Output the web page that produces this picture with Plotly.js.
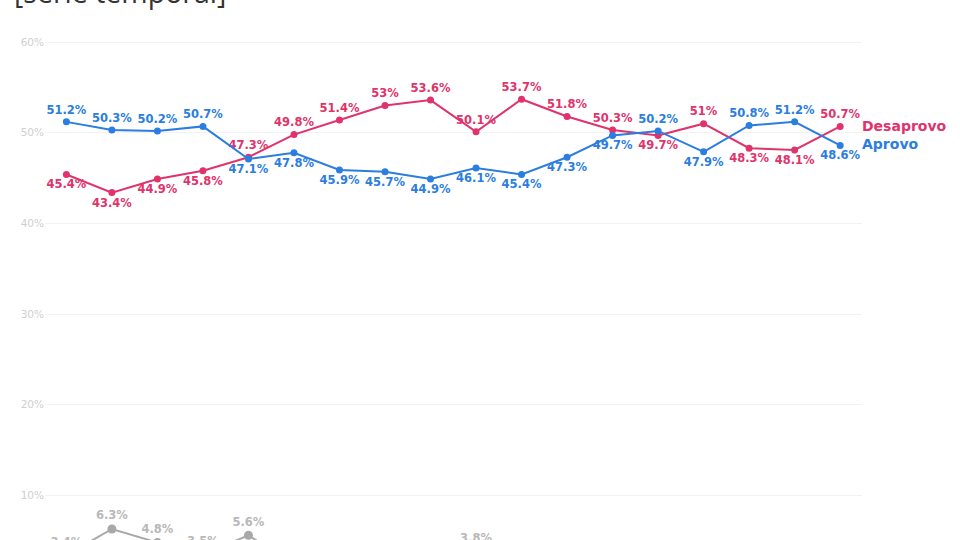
<!DOCTYPE html>
<html>
<head>
<meta charset="utf-8">
<script src="https://cdn.plot.ly/plotly-3.0.1.min.js"></script>
<style>
  html, body { margin: 0; padding: 0; background: #fff; width: 960px; height: 540px; overflow: hidden; }
  #chart { width: 960px; height: 600px; }
</style>
</head>
<body>
<div id="chart"></div>
<script>
// Data
const rounds = Array.from({ length: 18 }, (_, i) => i);
const aprovo = [51.2, 50.3, 50.2, 50.7, 47.1, 47.8, 45.9, 45.7, 44.9, 46.1, 45.4, 47.3, 49.7, 50.2, 47.9, 50.8, 51.2, 48.6];
const desaprovo = [45.4, 43.4, 44.9, 45.8, 47.3, 49.8, 51.4, 53, 53.6, 50.1, 53.7, 51.8, 50.3, 49.7, 51, 48.3, 48.1, 50.7];
const nsnr = [3.4, 6.3, 4.8, 3.5, 5.6, 2.4, 2.7, 1.3, 1.5, 3.8, 0.9, 0.9, 0, 0.1, 1.1, 0.9, 0.7, 0.7];
const yTicks = [10, 20, 30, 40, 50, 60];

const blue = '#2b7de0';
const pink = '#e0336b';
const grey = '#a8a8a8';

const pct = arr => arr.map(v => v + '%');
// label above the line that sits higher at that point, below otherwise
const aprovoPos = aprovo.map((v, i) => v > desaprovo[i] ? 'top center' : 'bottom center');
const desaprovoPos = desaprovo.map((v, i) => v > aprovo[i] ? 'top center' : 'bottom center');

const labelFont = { family: 'DejaVu Sans, sans-serif', size: 11.5, weight: 'bold' };

const traces = [
    {
        x: rounds, y: nsnr, type: 'scatter', mode: 'lines+markers+text',
        text: pct(nsnr), textposition: 'top center',
        textfont: { ...labelFont, color: '#b8b8b8' },
        line: { color: grey, width: 2 }, marker: { color: grey, size: 9 },
        cliponaxis: false, hoverinfo: 'skip'
    },
    {
        x: rounds, y: desaprovo, type: 'scatter', mode: 'lines+markers+text',
        text: pct(desaprovo), textposition: desaprovoPos,
        textfont: { ...labelFont, color: pink },
        line: { color: pink, width: 2 }, marker: { color: pink, size: 7 },
        cliponaxis: false, hoverinfo: 'skip'
    },
    {
        x: rounds, y: aprovo, type: 'scatter', mode: 'lines+markers+text',
        text: pct(aprovo), textposition: aprovoPos,
        textfont: { ...labelFont, color: blue },
        line: { color: blue, width: 2 }, marker: { color: blue, size: 7 },
        cliponaxis: false, hoverinfo: 'skip'
    }
];

const last = rounds.length - 1;

// the figure is taller than the window: its lower part falls below the frame, as in the reference
const layout = {
    width: 960, height: 600,
    paper_bgcolor: '#fff', plot_bgcolor: '#fff',
    margin: { l: 45, r: 98, t: 38, b: 13 },
    showlegend: false,
    title: {
        text: '[série temporal]',
        x: 14 / 960, xanchor: 'left', xref: 'container',
        y: 1 - 3 / 600, yanchor: 'bottom', yref: 'container',
        font: { family: 'Open Sans, sans-serif', size: 28.5, color: '#333' }
    },
    xaxis: {
        range: [-0.47, 17.48],
        showgrid: false, zeroline: false, showticklabels: false, showline: false
    },
    yaxis: {
        range: [-0.1, 60.45],
        tickvals: yTicks, ticktext: yTicks.map(v => v + '%'),
        showgrid: true, gridcolor: '#f2f2f2', gridwidth: 1,
        zeroline: false, showline: false, ticks: '',
        tickfont: { family: 'DejaVu Sans, sans-serif', size: 10.5, color: '#cfcfcf' }
    },
    annotations: [
        {
            x: last, y: desaprovo[last], xref: 'x', yref: 'y',
            text: 'Desaprovo', showarrow: false, xanchor: 'left', xshift: 20, yshift: 0,
            font: { family: 'DejaVu Sans, sans-serif', size: 14, weight: 'bold', color: pink }
        },
        {
            x: last, y: aprovo[last], xref: 'x', yref: 'y',
            text: 'Aprovo', showarrow: false, xanchor: 'left', xshift: 20, yshift: 1,
            font: { family: 'DejaVu Sans, sans-serif', size: 14, weight: 'bold', color: blue }
        }
    ]
};

Plotly.newPlot('chart', traces, layout, { staticPlot: true, displayModeBar: false });
</script>
</body>
</html>
